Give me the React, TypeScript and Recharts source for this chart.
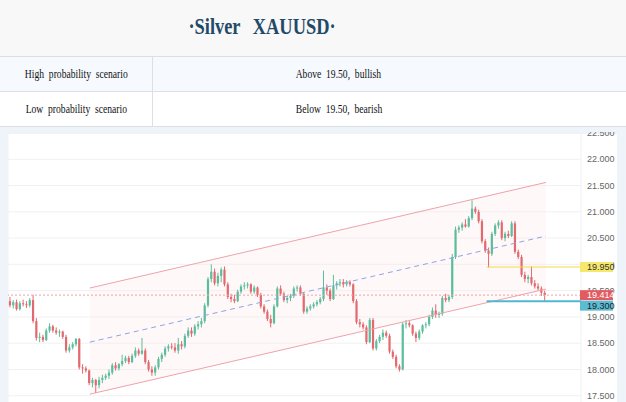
import React from "react";
import { Area, Bar, CartesianGrid, ComposedChart, ReferenceLine, XAxis, YAxis } from "recharts";

// candle OHLC (one entry per bar, left to right)
const opens = [
  19.3, 19.22, 19.28, 19.15, 19.26, 19.24, 19.22, 19.32, 18.92, 18.6,
  18.62, 18.56, 18.74, 18.82, 18.74, 18.7, 18.72, 18.62, 18.36, 18.42,
  18.48, 18.58, 18.04, 18.02, 17.98, 17.74, 17.8, 17.7, 17.8, 17.84,
  17.88, 17.94, 18.08, 18.02, 18.1, 18.16, 18.22, 18.14, 18.26, 18.36,
  18.3, 18.36, 18.14, 18.0, 17.94, 18.04, 18.2, 18.28, 18.4, 18.44,
  18.42, 18.36, 18.48, 18.44, 18.64, 18.74, 18.68, 18.82, 18.86, 18.92,
  19.22, 19.72, 19.86, 19.64, 19.78, 19.9, 19.62, 19.38, 19.34, 19.3,
  19.48, 19.58, 19.6, 19.62, 19.48, 19.56, 19.42, 19.2, 19.1, 18.96,
  18.88, 19.2, 19.54, 19.44, 19.32, 19.36, 19.4, 19.54, 19.56, 19.44,
  19.1, 19.16, 19.2, 19.24, 19.28, 19.34, 19.56, 19.5, 19.34, 19.6,
  19.64, 19.66, 19.62, 19.66, 19.62, 19.3, 18.9, 18.86, 18.8, 18.52,
  18.94, 18.4, 18.54, 18.62, 18.7, 18.64, 18.34, 18.24, 18.06, 18.0,
  18.86, 18.88, 18.84, 18.68, 18.6, 18.72, 18.84, 18.86, 19.0, 19.12,
  19.04, 19.06, 19.36, 19.32, 19.38, 20.14, 20.66, 20.7, 20.76, 20.72,
  20.88, 21.06, 21.0, 20.82, 20.44, 20.26, 20.2, 20.58, 20.74, 20.8,
  20.5, 20.58, 20.54, 20.78, 20.24, 20.14, 19.8, 19.72, 19.76, 19.64,
  19.58, 19.54, 19.46,
];
const highs = [
  19.38, 19.32, 19.33, 19.3, 19.33, 19.3, 19.36, 19.42, 18.98, 18.7,
  18.66, 18.78, 18.88, 18.85, 18.8, 18.76, 18.74, 18.66, 18.48, 18.52,
  18.6, 18.6, 18.1, 18.06, 18.0, 17.84, 17.82, 17.86, 17.9, 17.92,
  18.0, 18.12, 18.14, 18.12, 18.28, 18.26, 18.26, 18.3, 18.42, 18.4,
  18.6, 18.4, 18.18, 18.06, 18.08, 18.24, 18.32, 18.44, 18.48, 18.5,
  18.5, 18.6, 18.54, 18.68, 18.8, 18.8, 18.86, 18.92, 18.98, 19.26,
  19.76, 20.0, 19.92, 19.84, 19.94, 19.96, 19.66, 19.44, 19.42, 19.52,
  19.62, 19.66, 19.66, 19.64, 19.6, 19.58, 19.46, 19.24, 19.14, 19.04,
  19.24, 19.58, 19.6, 19.48, 19.4, 19.44, 19.58, 19.6, 19.6, 19.46,
  19.2, 19.24, 19.28, 19.32, 19.38, 19.88, 19.62, 19.54, 19.8, 19.68,
  19.72, 19.72, 19.7, 19.7, 19.64, 19.34, 18.96, 18.9, 18.84, 18.98,
  18.98, 18.58, 18.66, 18.76, 18.74, 18.68, 18.38, 18.28, 18.1, 18.9,
  18.94, 18.92, 18.86, 18.72, 18.76, 18.86, 18.9, 19.04, 19.18, 19.24,
  19.1, 19.4, 19.44, 19.42, 20.2, 20.72, 20.74, 20.8, 20.86, 20.92,
  21.22, 21.1, 21.04, 20.86, 20.48, 20.32, 20.62, 20.78, 20.84, 20.84,
  20.62, 20.64, 20.82, 20.82, 20.28, 20.18, 19.86, 19.8, 19.96, 19.7,
  19.64, 19.58, 19.5,
];
const lows = [
  19.18, 19.16, 19.12, 19.12, 19.2, 19.17, 19.18, 18.88, 18.55, 18.52,
  18.52, 18.54, 18.7, 18.7, 18.66, 18.62, 18.58, 18.32, 18.32, 18.38,
  18.44, 18.0, 17.92, 17.94, 17.7, 17.66, 17.55, 17.64, 17.74, 17.8,
  17.82, 17.9, 17.98, 17.98, 18.06, 18.12, 18.1, 18.12, 18.22, 18.26,
  18.28, 18.1, 17.96, 17.88, 17.88, 18.0, 18.14, 18.24, 18.34, 18.38,
  18.32, 18.3, 18.38, 18.4, 18.6, 18.62, 18.64, 18.76, 18.8, 18.88,
  19.18, 19.66, 19.6, 19.58, 19.66, 19.58, 19.34, 19.28, 19.26, 19.28,
  19.44, 19.52, 19.54, 19.44, 19.44, 19.38, 19.16, 19.06, 18.92, 18.8,
  18.86, 19.18, 19.4, 19.28, 19.26, 19.3, 19.36, 19.48, 19.4, 19.06,
  19.06, 19.12, 19.16, 19.2, 19.24, 19.3, 19.42, 19.3, 19.32, 19.52,
  19.58, 19.56, 19.58, 19.58, 19.26, 18.86, 18.8, 18.76, 18.48, 18.5,
  18.36, 18.36, 18.5, 18.56, 18.6, 18.3, 18.2, 18.02, 17.96, 17.98,
  18.78, 18.8, 18.64, 18.52, 18.56, 18.68, 18.78, 18.82, 18.96, 18.98,
  18.98, 19.02, 19.28, 19.28, 19.34, 20.1, 20.6, 20.64, 20.7, 20.7,
  20.84, 20.96, 20.78, 20.4, 20.22, 19.94, 20.16, 20.54, 20.68, 20.46,
  20.44, 20.5, 20.52, 20.2, 20.1, 19.76, 19.66, 19.64, 19.6, 19.54,
  19.5, 19.4, 19.3,
];
const closes = [
  19.22, 19.28, 19.15, 19.26, 19.24, 19.22, 19.32, 18.92, 18.6, 18.62,
  18.56, 18.74, 18.82, 18.74, 18.7, 18.72, 18.62, 18.36, 18.42, 18.48,
  18.58, 18.04, 18.02, 17.98, 17.74, 17.8, 17.7, 17.8, 17.84, 17.88,
  17.94, 18.08, 18.02, 18.1, 18.16, 18.22, 18.14, 18.26, 18.36, 18.3,
  18.36, 18.14, 18.0, 17.94, 18.04, 18.2, 18.28, 18.4, 18.44, 18.42,
  18.36, 18.48, 18.44, 18.64, 18.74, 18.68, 18.82, 18.86, 18.92, 19.22,
  19.72, 19.86, 19.64, 19.78, 19.9, 19.62, 19.38, 19.34, 19.3, 19.48,
  19.58, 19.6, 19.62, 19.48, 19.56, 19.42, 19.2, 19.1, 18.96, 18.88,
  19.2, 19.54, 19.44, 19.32, 19.36, 19.4, 19.54, 19.56, 19.44, 19.1,
  19.16, 19.2, 19.24, 19.28, 19.34, 19.56, 19.5, 19.34, 19.6, 19.64,
  19.66, 19.62, 19.66, 19.62, 19.3, 18.9, 18.86, 18.8, 18.52, 18.94,
  18.4, 18.54, 18.62, 18.7, 18.64, 18.34, 18.24, 18.06, 18.0, 18.86,
  18.88, 18.84, 18.68, 18.6, 18.72, 18.84, 18.86, 19.0, 19.12, 19.04,
  19.06, 19.36, 19.32, 19.38, 20.14, 20.66, 20.7, 20.76, 20.72, 20.88,
  21.06, 21.0, 20.82, 20.44, 20.26, 20.2, 20.58, 20.74, 20.8, 20.5,
  20.58, 20.54, 20.78, 20.24, 20.14, 19.8, 19.72, 19.76, 19.64, 19.58,
  19.54, 19.46, 19.414,
];

// channel drawn on the chart: [start bar, end bar] and prices at both ends
const channelX = [24.2, 162.4];
const upperChannel = [19.55, 21.56];
const lowerChannel = [17.53, 19.53];
const midChannel = [18.52, 20.54];

const lastPrice = 19.414;
const resistance = 19.95;
const support = 19.3;
const levelStart = 144.4;

const yTicks = [17, 17.5, 18, 18.5, 19, 19.5, 20, 20.5, 21, 21.5, 22, 22.5];
const timeGrid = [2.7, 22.7, 37.6, 58.2, 82.4, 107, 130.9, 155.8];

// price tags on the right axis, drawn after the plain ticks so they sit on top
const tags: Record<string, { bg: string; fg: string; shift: number }> = {
  "19.95": { bg: "#f6e86a", fg: "#333", shift: 0 },
  "19.414": { bg: "#e25b60", fg: "#fff", shift: 0 },
  "19.3": { bg: "#5cbcd3", fg: "#222", shift: 4.5 },
};
const axisTicks = [...yTicks, resistance, lastPrice, support];

const GREEN = "#5cbd9c";
const RED = "#e26a6e";
const serif = "'Liberation Serif', 'Times New Roman', serif";
const sans = "'Liberation Sans', Arial, sans-serif";

const candles = opens.map((o, i) => ({ i, o, h: highs[i], l: lows[i], c: closes[i], range: [lows[i], highs[i]] }));
const channelBand = channelX.map((x, k) => ({ i: x, band: [lowerChannel[k], upperChannel[k]] }));
const xEnd = 173;

function Candle(props: any) {
  const { x, y, width, height, payload } = props;
  if (x == null || y == null || !payload) return null;
  const top = Math.min(y, y + height);
  const span = Math.abs(height);
  const { o, h, l, c } = payload;
  const py = (v: number) => top + ((h - v) / (h - l || 1)) * span;
  const color = c >= o ? GREEN : RED;
  const cx = x + width / 2;
  const bTop = py(Math.max(o, c));
  const bBot = py(Math.min(o, c));
  return (
    <g>
      <line x1={cx} x2={cx} y1={top} y2={top + span} stroke={color} strokeWidth={1} />
      <rect x={cx - 1.1} y={bTop} width={2.2} height={Math.max(1, bBot - bTop)} fill={color} />
    </g>
  );
}

function AxisTick({ x, y, payload }: any) {
  const value = Number(payload.value);
  const tag = tags[String(value)];
  if (!tag) {
    return (
      <text x={x} y={y} dy="0.35em" fontSize={9} fill="#666" fontFamily={sans}>
        {value.toFixed(3)}
      </text>
    );
  }
  const cy = y + tag.shift;
  return (
    <g>
      <rect x={x - 7} y={cy - 5} width={33} height={10} fill={tag.bg} />
      <text x={x} y={cy} dy="0.35em" fontSize={9} fill={tag.fg} fontFamily={sans}>
        {value.toFixed(3)}
      </text>
    </g>
  );
}

const squeeze: React.CSSProperties = { display: "inline-block", transform: "scaleX(0.8)", whiteSpace: "nowrap" };

export default function App() {
  return (
    <div style={{ position: "fixed", left: 0, top: 0, width: 626, height: 402, overflow: "hidden", background: "#fff" }}>
      <div style={{ position: "absolute", left: 0, top: 0, width: 626, height: 56, background: "#f8f8f8", borderBottom: "1px solid #dcdfe4" }}>
        <div style={{ position: "absolute", left: 0, width: 524, top: 13, textAlign: "center", fontFamily: serif, fontWeight: 700, fontSize: 23, lineHeight: "28px", color: "#1f4a68" }}>
          <span style={{ ...squeeze, wordSpacing: 10 }}>·Silver XAUUSD·</span>
        </div>
      </div>
      {[
        { top: 57, bg: "#f6faff", left: "High probability scenario", right: "Above 19.50, bullish" },
        { top: 92, bg: "#ffffff", left: "Low probability scenario", right: "Below 19.50, bearish" },
      ].map((row) => (
        <div key={row.left} style={{ position: "absolute", left: 0, top: row.top, width: 626, height: 34, background: row.bg, borderBottom: "1px solid #dcdfe4", fontFamily: serif, fontSize: 12, color: "#111", lineHeight: "34px" }}>
          <div style={{ position: "absolute", left: 0, width: 152, textAlign: "center", borderRight: "1px solid #dcdfe4", height: 34 }}>
            <span style={{ ...squeeze, wordSpacing: 3 }}>{row.left}</span>
          </div>
          <div style={{ position: "absolute", left: 153, width: 371, textAlign: "center" }}>
            <span style={{ ...squeeze, wordSpacing: 3 }}>{row.right}</span>
          </div>
        </div>
      ))}
      <div style={{ position: "absolute", left: 0, top: 127, width: 626, height: 275, background: "#eff4fa" }} />
      <div style={{ position: "absolute", left: 0, top: 132, width: 626, height: 270, overflow: "hidden" }}>
        <div style={{ position: "absolute", left: 8, top: 2, width: 609, height: 300, background: "#fff" }} />
        <div style={{ position: "absolute", left: 8, top: -9 }}>
          <ComposedChart width={609} height={300} data={candles} margin={{ top: 10, right: 0, bottom: 1, left: 0 }}>
            <CartesianGrid stroke="#f1f1f1" horizontalValues={yTicks} />
            <XAxis type="number" dataKey="i" domain={[-0.6, xEnd]} ticks={timeGrid} allowDataOverflow height={0} tick={false} axisLine={false} tickLine={false} />
            <YAxis
              type="number"
              orientation="right"
              domain={[17, 22.5]}
              ticks={axisTicks}
              interval={0}
              allowDataOverflow
              width={36}
              axisLine={false}
              tickLine={false}
              tickSize={0}
              tickMargin={6}
              tick={(p: any) => <AxisTick {...p} />}
            />
            <Area data={channelBand} dataKey="band" type="linear" stroke="none" fill="#fbe8ec" fillOpacity={0.3} isAnimationActive={false} />
            <ReferenceLine segment={[{ x: channelX[0], y: upperChannel[0] }, { x: channelX[1], y: upperChannel[1] }]} stroke="#eea3a9" strokeWidth={1} />
            <ReferenceLine segment={[{ x: channelX[0], y: lowerChannel[0] }, { x: channelX[1], y: lowerChannel[1] }]} stroke="#eea3a9" strokeWidth={1} />
            <ReferenceLine segment={[{ x: channelX[0], y: midChannel[0] }, { x: channelX[1], y: midChannel[1] }]} stroke="#8fa3e6" strokeWidth={1} strokeDasharray="5 4" />
            <Bar dataKey="range" barSize={3} shape={(p: any) => <Candle {...p} />} isAnimationActive={false} />
            <ReferenceLine y={lastPrice} stroke="#f0a3a3" strokeDasharray="2 2" />
            <ReferenceLine segment={[{ x: levelStart, y: resistance }, { x: xEnd, y: resistance }]} stroke="#f2dc45" strokeWidth={1.2} />
            <ReferenceLine segment={[{ x: levelStart, y: support }, { x: xEnd, y: support }]} stroke="#52b6ce" strokeWidth={2} />
          </ComposedChart>
        </div>
      </div>
    </div>
  );
}
